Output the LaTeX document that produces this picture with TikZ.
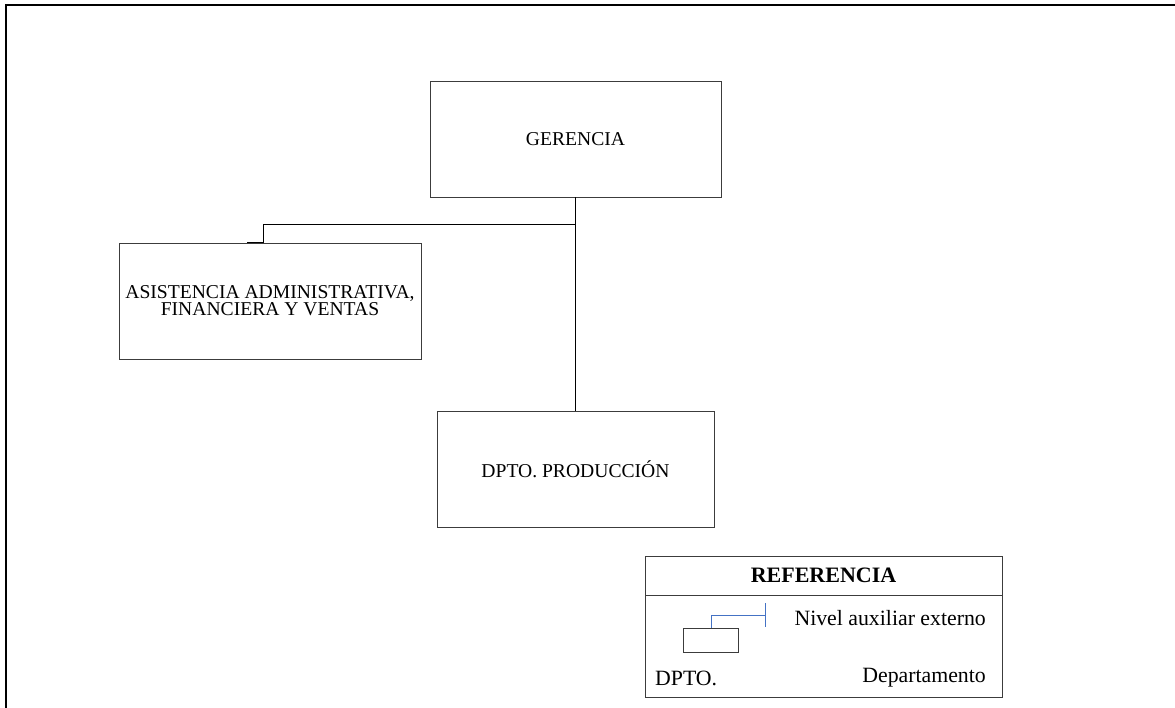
\documentclass[tikz,border=0pt]{standalone}
\usepackage{fontspec}
\setmainfont{Liberation Serif}
\usetikzlibrary{calc}
\definecolor{auxblue}{RGB}{68,114,196}
\definecolor{boxline}{RGB}{60,60,60}
\tikzset{
  unitbox/.style={draw=boxline, line width=0.8pt, rectangle, inner sep=0pt,
    align=center, font={\fontsize{19.6}{15.5}\selectfont}},
  link/.style={draw=black, line width=0.8pt},
  legendtext/.style={inner sep=0pt, font={\fontsize{21.8}{24}\selectfont}},
  auxlink/.style={draw=auxblue, line width=0.9pt}
}
\begin{document}
\begin{tikzpicture}[x=1pt,y=-1pt]
\useasboundingbox (0,0) rectangle (1175,708);

% page frame (top and left edges)
\draw[line width=2pt] (5.5,708) -- (5.5,5.5) -- (1175,5.5);

% organisation units
\node[unitbox, minimum width=291pt, minimum height=116pt] (ger) at (575.5,139) {GERENCIA};
\node[unitbox, minimum width=302pt, minimum height=116pt] (asis) at (270,301)
  {ASISTENCIA ADMINISTRATIVA,\\FINANCIERA Y VENTAS};
\node[unitbox, minimum width=277pt, minimum height=116pt] (prod) at (575.5,469) {DPTO. PRODUCCIÓN};

% connectors
\draw[link] (ger.south) -- (prod.north);
\coordinate (branch) at ($(ger.south)+(0,27)$);
\draw[link] (branch) -| ([xshift=-7pt]asis.north);
\draw[line width=1.6pt] ([xshift=-23pt]asis.north) -- ([xshift=-7pt]asis.north);

% legend
\node[draw=boxline, line width=0.8pt, rectangle, minimum width=357pt, minimum height=141pt,
  inner sep=0pt] (legend) at (823.5,626.5) {};
\coordinate (sepL) at (645,595);
\coordinate (sepR) at (1002,595);
\draw[draw=boxline, line width=0.8pt] (sepL) -- (sepR);
\node[legendtext, font={\fontsize{22}{24}\selectfont\bfseries}] (reftitle) at (823.5,575) {REFERENCIA};

\node[draw=boxline, line width=0.8pt, rectangle, minimum width=55pt, minimum height=24pt,
  inner sep=0pt] (lrect) at (710.5,640) {};
\coordinate (auxend) at (765,615);
\draw[auxlink] ([xshift=0.5pt]lrect.north) |- (auxend);
\draw[auxlink] ($(auxend)+(0,-12)$) -- ($(auxend)+(0,12)$);

\node[legendtext, anchor=east] (nivel) at (986,618) {Nivel auxiliar externo};
\node[legendtext, anchor=west] (dpto) at (655,678) {DPTO.};
\node[legendtext, anchor=east] (depto) at (986,678) {Departamento};
\end{tikzpicture}
\end{document}
